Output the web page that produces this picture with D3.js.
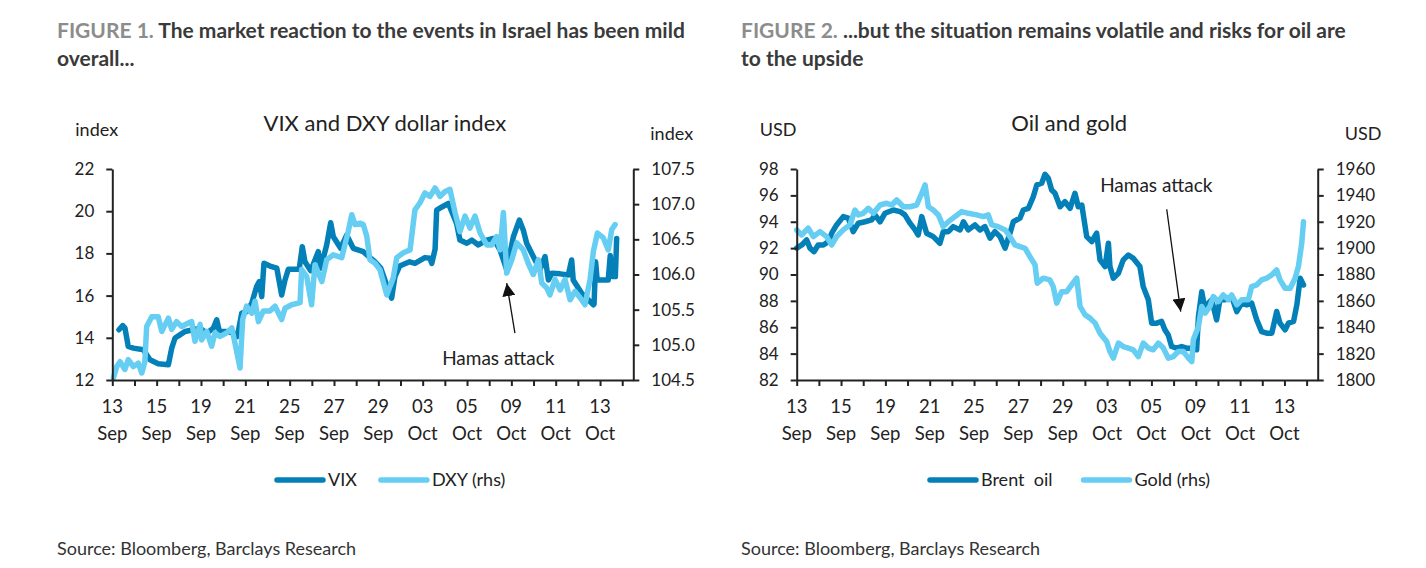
<!DOCTYPE html>
<html>
<head>
<meta charset="utf-8">
<script src="https://cdn.jsdelivr.net/npm/d3@7"></script>
<style>
  body { margin: 0; background: #fff; }
  svg text { font-family: Lato, "Noto Sans", sans-serif; fill: #222; }
</style>
</head>
<body>
<svg id="chart" width="1426" height="568"></svg>
<script>
// x positions are in trading days since 13 Sep (0 = 13 Sep, 22 = 13 Oct)
const dayTicks = [0, 2, 4, 6, 8, 10, 12, 14, 16, 18, 20, 22];
const dayNums = ['13', '15', '19', '21', '25', '27', '29', '03', '05', '09', '11', '13'];
const dayMonths = ['Sep', 'Sep', 'Sep', 'Sep', 'Sep', 'Sep', 'Sep', 'Oct', 'Oct', 'Oct', 'Oct', 'Oct'];

const vixTicks = [12, 14, 16, 18, 20, 22];
const dxyTicks = [104.5, 105.0, 105.5, 106.0, 106.5, 107.0, 107.5];
const oilTicks = [82, 84, 86, 88, 90, 92, 94, 96, 98];
const goldTicks = [1800, 1820, 1840, 1860, 1880, 1900, 1920, 1940, 1960];

// [trading day, value]
const vix = [
  [0.30, 14.38], [0.47, 14.58], [0.57, 14.46], [0.72, 13.59], [0.95, 13.51], [1.40, 13.43],
  [1.70, 12.96], [2.07, 12.77], [2.53, 12.72], [2.68, 13.51], [2.83, 13.99], [3.05, 14.14],
  [3.28, 14.30], [3.65, 14.38], [3.96, 14.46], [4.26, 14.22], [4.56, 14.46], [4.71, 14.85],
  [4.83, 14.30], [5.16, 14.30], [5.46, 14.22], [5.64, 14.06], [5.84, 15.17], [6.06, 15.24],
  [6.29, 15.64], [6.51, 16.43], [6.63, 16.66], [6.74, 15.95], [6.84, 17.53], [7.11, 17.40],
  [7.42, 17.30], [7.64, 16.03], [7.79, 16.74], [7.94, 17.25], [8.43, 17.25], [8.57, 18.32],
  [8.69, 17.60], [8.95, 17.18], [9.29, 18.08], [9.40, 17.30], [9.67, 18.40], [9.85, 19.45],
  [9.97, 18.79], [10.30, 18.24], [10.57, 18.87], [10.87, 18.24], [11.32, 18.08], [11.85, 17.60],
  [12.11, 17.30], [12.44, 16.30], [12.60, 15.88], [12.75, 16.90], [12.96, 17.40], [13.41, 17.60],
  [13.65, 17.53], [14.10, 17.80], [14.33, 17.77], [14.41, 17.53], [14.56, 18.20], [14.63, 20.05],
  [14.87, 20.20], [15.16, 20.37], [15.53, 19.42], [15.68, 18.63], [15.99, 18.48], [16.22, 18.63],
  [16.51, 18.40], [16.89, 18.63], [17.19, 18.71], [17.49, 18.16], [17.79, 17.22], [18.09, 18.79],
  [18.36, 19.58], [18.54, 19.10], [18.69, 18.48], [18.92, 18.00], [19.29, 17.22], [19.52, 17.85],
  [19.67, 16.74], [19.82, 17.06], [20.20, 17.03], [20.57, 16.98], [20.72, 17.69], [20.79, 16.74],
  [21.17, 16.11], [21.70, 15.56], [21.73, 15.60], [21.80, 17.60], [21.87, 16.74], [22.37, 16.74],
  [22.46, 17.90], [22.55, 16.90], [22.69, 16.90], [22.75, 18.71]
];

const dxy = [
  [0.05, 104.53], [0.20, 104.69], [0.35, 104.76], [0.57, 104.65], [0.72, 104.79], [0.95, 104.69],
  [1.17, 104.74], [1.33, 104.60], [1.47, 104.76], [1.55, 105.26], [1.78, 105.40], [2.07, 105.40],
  [2.23, 105.19], [2.53, 105.38], [2.68, 105.22], [2.90, 105.33], [3.13, 105.26], [3.43, 105.31],
  [3.58, 105.33], [3.73, 105.05], [3.96, 105.29], [4.03, 105.07], [4.26, 105.19], [4.48, 104.98],
  [4.63, 105.17], [4.86, 105.12], [5.16, 105.17], [5.39, 105.24], [5.53, 105.03], [5.76, 104.67],
  [5.88, 105.36], [6.06, 105.55], [6.29, 105.45], [6.44, 105.62], [6.59, 105.33], [6.81, 105.48],
  [7.11, 105.48], [7.34, 105.55], [7.64, 105.36], [7.79, 105.52], [8.09, 105.57], [8.47, 105.60],
  [8.54, 106.07], [8.77, 105.97], [8.99, 105.57], [9.14, 106.14], [9.45, 105.90], [9.67, 106.21],
  [9.97, 106.28], [10.35, 106.24], [10.64, 106.61], [10.80, 106.85], [10.95, 106.71], [11.17, 106.73],
  [11.32, 106.71], [11.48, 106.54], [11.62, 106.21], [11.85, 106.16], [12.07, 106.07], [12.38, 105.71],
  [12.67, 105.95], [12.83, 106.24], [13.13, 106.31], [13.43, 106.35], [13.65, 106.92], [13.88, 107.02],
  [14.10, 107.16], [14.33, 107.11], [14.56, 107.23], [14.78, 107.11], [15.01, 107.18], [15.23, 107.21],
  [15.46, 106.88], [15.68, 106.61], [15.91, 106.83], [16.13, 106.66], [16.36, 106.83], [16.59, 106.59],
  [16.89, 106.42], [17.11, 106.42], [17.34, 106.54], [17.49, 106.35], [17.64, 106.88], [17.79, 106.02],
  [18.02, 106.21], [18.24, 106.45], [18.54, 106.35], [18.76, 106.16], [18.99, 106.00], [19.22, 106.21],
  [19.37, 105.88], [19.59, 105.81], [19.74, 105.71], [19.97, 105.93], [20.20, 105.78], [20.42, 105.93],
  [20.65, 105.64], [20.87, 105.76], [21.10, 105.67], [21.32, 105.57], [21.55, 105.93], [21.70, 106.33],
  [21.88, 106.59], [22.15, 106.52], [22.37, 106.35], [22.53, 106.64], [22.68, 106.71]
];

const brent = [
  [0.00, 92.00], [0.23, 92.24], [0.45, 92.62], [0.60, 92.00], [0.78, 91.73], [0.97, 92.24],
  [1.20, 92.24], [1.43, 92.49], [1.58, 93.13], [1.80, 93.76], [2.10, 94.39], [2.33, 94.27],
  [2.55, 93.25], [2.78, 93.89], [3.08, 94.00], [3.38, 94.14], [3.53, 94.52], [3.76, 94.00],
  [3.98, 94.64], [4.36, 94.89], [4.66, 94.77], [4.88, 94.52], [5.11, 93.89], [5.34, 93.38],
  [5.48, 93.00], [5.64, 94.39], [5.86, 93.13], [6.16, 92.87], [6.46, 92.37], [6.61, 93.25],
  [6.84, 93.25], [7.06, 93.63], [7.37, 93.38], [7.52, 94.00], [7.74, 93.38], [8.04, 93.76],
  [8.27, 93.38], [8.49, 93.63], [8.72, 92.75], [8.94, 93.25], [9.17, 92.87], [9.40, 92.00],
  [9.62, 93.13], [9.77, 94.00], [10.07, 94.27], [10.22, 94.89], [10.45, 95.02], [10.67, 95.90],
  [10.83, 96.79], [11.05, 96.92], [11.20, 97.60], [11.35, 97.30], [11.50, 96.41], [11.65, 96.16],
  [11.88, 95.14], [12.10, 95.52], [12.33, 95.02], [12.55, 96.16], [12.70, 95.14], [12.86, 95.27],
  [13.08, 92.87], [13.31, 92.49], [13.53, 93.13], [13.68, 91.11], [13.91, 90.60], [14.06, 92.37],
  [14.13, 90.60], [14.28, 89.72], [14.51, 90.10], [14.73, 91.11], [14.96, 91.48], [15.18, 91.23],
  [15.48, 90.60], [15.63, 89.08], [15.86, 88.08], [16.01, 86.31], [16.24, 86.31], [16.46, 86.44],
  [16.61, 85.80], [16.76, 85.42], [16.91, 84.54], [17.14, 84.41], [17.36, 84.54], [17.59, 84.41],
  [17.82, 84.41], [18.04, 84.29], [18.12, 86.81], [18.27, 88.70], [18.42, 87.32], [18.57, 87.83],
  [18.72, 88.08], [18.94, 86.56], [19.09, 88.08], [19.32, 88.08], [19.62, 88.33], [19.85, 87.19],
  [20.07, 87.83], [20.30, 87.70], [20.52, 87.83], [20.75, 86.56], [20.97, 85.67], [21.20, 85.55],
  [21.43, 85.55], [21.65, 87.19], [21.80, 86.31], [22.03, 85.80], [22.18, 86.31], [22.41, 86.44],
  [22.56, 87.70], [22.71, 89.72], [22.86, 89.21]
];

const gold = [
  [0.00, 1913.8], [0.23, 1910.0], [0.52, 1915.1], [0.75, 1908.7], [1.05, 1912.5], [1.35, 1908.7],
  [1.58, 1902.4], [1.80, 1908.7], [2.10, 1913.8], [2.40, 1917.6], [2.63, 1928.9], [2.78, 1925.2],
  [3.00, 1926.4], [3.23, 1930.2], [3.46, 1926.4], [3.76, 1932.7], [4.06, 1934.0], [4.29, 1932.7],
  [4.51, 1936.5], [4.81, 1931.4], [5.11, 1931.4], [5.41, 1932.7], [5.64, 1941.6], [5.79, 1947.9],
  [5.94, 1931.4], [6.16, 1928.9], [6.39, 1925.2], [6.61, 1916.3], [6.84, 1920.1], [7.14, 1923.9],
  [7.44, 1927.7], [7.74, 1926.4], [8.12, 1925.2], [8.42, 1923.9], [8.64, 1925.2], [8.80, 1917.6],
  [9.09, 1916.3], [9.40, 1913.8], [9.62, 1908.7], [9.85, 1902.4], [10.07, 1901.1], [10.30, 1899.9],
  [10.52, 1893.6], [10.75, 1887.3], [10.85, 1873.4], [11.12, 1877.2], [11.42, 1875.9], [11.57, 1870.8],
  [11.73, 1858.3], [11.95, 1867.0], [12.18, 1867.0], [12.40, 1872.1], [12.63, 1877.2], [12.78, 1855.8],
  [13.01, 1849.4], [13.23, 1846.9], [13.46, 1843.1], [13.68, 1835.5], [13.98, 1829.2], [14.13, 1821.6],
  [14.28, 1816.6], [14.51, 1828.0], [14.73, 1825.4], [14.96, 1824.2], [15.18, 1822.9], [15.41, 1817.8],
  [15.63, 1828.0], [15.86, 1824.2], [16.08, 1822.9], [16.31, 1828.0], [16.54, 1824.2], [16.76, 1816.6],
  [16.99, 1817.8], [17.21, 1821.6], [17.44, 1821.6], [17.67, 1816.6], [17.82, 1814.0], [17.89, 1830.5],
  [18.12, 1840.5], [18.27, 1855.8], [18.42, 1850.7], [18.64, 1855.8], [18.79, 1863.3], [19.02, 1859.5],
  [19.24, 1864.5], [19.47, 1860.8], [19.62, 1864.5], [19.85, 1857.0], [20.07, 1860.8], [20.37, 1860.8],
  [20.52, 1870.8], [20.75, 1872.1], [20.97, 1875.9], [21.20, 1877.2], [21.43, 1879.7], [21.65, 1883.5],
  [21.80, 1875.9], [22.03, 1869.6], [22.26, 1869.6], [22.48, 1877.2], [22.63, 1886.0], [22.78, 1903.7],
  [22.86, 1920.1]
];

const darkBlue = '#0480b9';
const lightBlue = '#66cdf3';

const svg = d3.select('#chart');
svg.append('defs').append('marker')
    .attr('id', 'arrow')
    .attr('viewBox', '0 0 10 10')
    .attr('refX', 10).attr('refY', 5)
    .attr('markerWidth', 13).attr('markerHeight', 13)
    .attr('markerUnits', 'userSpaceOnUse')
    .attr('orient', 'auto')
  .append('path')
    .attr('d', 'M0,0 L10,5 L0,10 Z')
    .attr('fill', '#111');

const plotW = 521, plotH = 211, plotTop = 169;

function drawPanel(opt) {
    const root = svg.append('g').attr('transform', `translate(${opt.left},0)`);

    // figure heading
    const head = root.append('text')
        .attr('x', opt.headX).attr('y', 38)
        .style('font-size', '21px').style('font-weight', 700);
    opt.heading.forEach(function(line, i) {
        const t = head.append('tspan').attr('x', opt.headX).attr('dy', i === 0 ? 0 : 28);
        if (i === 0) {
            t.append('tspan').style('fill', '#8c8c8c').text(opt.figLabel + ' ');
        }
        t.append('tspan').style('fill', '#3a3a3a').text(line);
    });

    root.append('text')
        .attr('x', plotW / 2 + 12).attr('y', 131)
        .attr('text-anchor', 'middle')
        .style('font-size', '22px')
        .text(opt.title);
    root.append('text').attr('x', opt.leftUnitX).attr('y', 136)
        .style('font-size', '18px').text(opt.leftUnit);
    root.append('text').attr('x', plotW + opt.rightUnitX).attr('y', 140)
        .style('font-size', '18px').text(opt.rightUnit);

    const g = root.append('g').attr('transform', `translate(0,${plotTop})`);
    const x = d3.scaleLinear().domain([0, 23.5]).range([0, plotW]);
    const yL = d3.scaleLinear().domain(d3.extent(opt.leftTicks)).range([plotH, 0]);
    const yR = d3.scaleLinear().domain(d3.extent(opt.rightTicks)).range([plotH, 0]);

    const line = d3.line().x(d => x(d[0]));

    g.append('path').datum(opt.leftData)
        .attr('fill', 'none').attr('stroke', darkBlue).attr('stroke-width', 5.5)
        .attr('stroke-linejoin', 'round').attr('stroke-linecap', 'round')
        .attr('d', line.y(d => yL(d[1])));
    g.append('path').datum(opt.rightData)
        .attr('fill', 'none').attr('stroke', lightBlue).attr('stroke-width', 5.5)
        .attr('stroke-linejoin', 'round').attr('stroke-linecap', 'round')
        .attr('d', line.y(d => yR(d[1])));

    const xAxis = g.append('g').attr('transform', `translate(0,${plotH})`)
        .call(d3.axisBottom(x).tickValues(d3.range(0, 24)).tickSize(6).tickSizeOuter(0).tickFormat(''));
    const leftAxis = g.append('g')
        .call(d3.axisLeft(yL).tickValues(opt.leftTicks).tickSize(6).tickSizeOuter(0)
            .tickPadding(12).tickFormat(opt.leftFormat));
    const rightAxis = g.append('g').attr('transform', `translate(${plotW},0)`)
        .call(d3.axisRight(yR).tickValues(opt.rightTicks).tickSize(6).tickSizeOuter(0)
            .tickPadding(12).tickFormat(opt.rightFormat));
    [xAxis, leftAxis, rightAxis].forEach(function(a) {
        a.selectAll('path, line').attr('stroke', '#222').attr('stroke-width', 2);
        a.selectAll('text').style('font-size', '17px').attr('fill', '#222');
    });

    const labels = g.append('g').attr('transform', `translate(0,${plotH})`);
    dayTicks.forEach(function(d, i) {
        const t = labels.append('text').attr('x', x(d)).attr('y', 33)
            .attr('text-anchor', 'middle').style('font-size', '18.5px');
        t.append('tspan').attr('x', x(d)).text(dayNums[i]);
        t.append('tspan').attr('x', x(d)).attr('dy', 27).text(dayMonths[i]);
    });

    // annotation
    const a = opt.note;
    const ay = a.onRight ? yR : yL;
    g.append('line')
        .attr('x1', x(a.from[0])).attr('y1', ay(a.from[1]))
        .attr('x2', x(a.to[0])).attr('y2', ay(a.to[1]))
        .attr('stroke', '#111').attr('stroke-width', 1.3)
        .attr('marker-end', 'url(#arrow)');
    g.append('text')
        .attr('x', x(a.text[0])).attr('y', ay(a.text[1]))
        .attr('text-anchor', 'middle').style('font-size', '19px')
        .text('Hamas attack');

    // legend
    const leg = root.append('g').attr('transform', `translate(${opt.legendX},480)`);
    let lx = 0;
    opt.legend.forEach(function(item) {
        leg.append('line').attr('x1', lx + 2).attr('x2', lx + 48)
            .attr('stroke', item.color).attr('stroke-width', 5.5).attr('stroke-linecap', 'round');
        const t = leg.append('text').attr('x', lx + 53).attr('y', 6)
            .style('font-size', '18px').style('white-space', 'pre').text(item.name);
        lx += 53 + t.node().getComputedTextLength() + opt.legendGap;
    });

    root.append('text').attr('x', opt.headX).attr('y', 555)
        .style('font-size', '18px').style('fill', '#333')
        .text('Source: Bloomberg, Barclays Research');
}

drawPanel({
    left: 112.3,
    headX: -55.3,
    figLabel: 'FIGURE 1.',
    heading: ['The market reaction to the events in Israel has been mild', 'overall...'],
    title: 'VIX and DXY dollar index',
    leftUnit: 'index', leftUnitX: -37,
    rightUnit: 'index', rightUnitX: 17,
    leftTicks: vixTicks, rightTicks: dxyTicks,
    leftFormat: d3.format('d'), rightFormat: d3.format('.1f'),
    leftData: vix, rightData: dxy,
    note: { onRight: false, from: [18.16, 14.22], to: [17.79, 16.59], text: [17.41, 12.72] },
    legendX: 162.7, legendGap: 22,
    legend: [{ name: 'VIX', color: darkBlue }, { name: 'DXY (rhs)', color: lightBlue }]
});

drawPanel({
    left: 796.7,
    headX: -55.7,
    figLabel: 'FIGURE 2.',
    heading: ['...but the situation remains volatile and risks for oil are', 'to the upside'],
    title: 'Oil and gold',
    leftUnit: 'USD', leftUnitX: -37,
    rightUnit: 'USD', rightUnitX: 27,
    leftTicks: oilTicks, rightTicks: goldTicks,
    leftFormat: d3.format('d'), rightFormat: d3.format('d'),
    leftData: brent, rightData: gold,
    note: { onRight: false, from: [16.69, 94.95], to: [17.32, 87.19], text: [16.22, 96.28] },
    legendX: 131.3, legendGap: 29,
    legend: [{ name: 'Brent  oil', color: darkBlue }, { name: 'Gold (rhs)', color: lightBlue }]
});
</script>
</body>
</html>
